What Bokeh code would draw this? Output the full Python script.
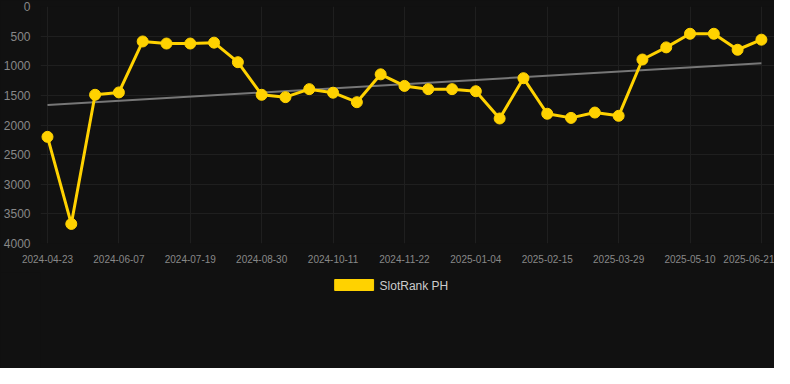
import numpy as np
from bokeh.plotting import figure
from bokeh.layouts import column
from bokeh.models import Range1d, FixedTicker, ColumnDataSource
from bokeh.core.properties import value
from bokeh.embed import file_html
from bokeh.resources import INLINE

# ---- data ----
ranks = [2200, 3670, 1490, 1450, 590, 625, 625, 610, 940, 1490, 1530, 1395, 1455,
         1615, 1145, 1340, 1395, 1395, 1430, 1890, 1210, 1810, 1880, 1790, 1845,
         895, 690, 460, 460, 730, 560]
tick_labels = ["2024-04-23", "2024-06-07", "2024-07-19", "2024-08-30", "2024-10-11",
               "2024-11-22", "2025-01-04", "2025-02-15", "2025-03-29", "2025-05-10",
               "2025-06-21"]
series_name = "SlotRank PH"
y_ticks = [0, 500, 1000, 1500, 2000, 2500, 3000, 3500, 4000]

idx = list(range(len(ranks)))
tick_pos = idx[::3]

# linear trend computed from the series
coef = np.polyfit(idx, ranks, 1)
trend_x = [idx[0], idx[-1]]
trend_y = [float(np.polyval(coef, t)) for t in trend_x]

BG = "#111111"
GOLD = "#FFD200"
W = 774
LEFT = 38

p = figure(width=W, height=272, output_backend="svg", toolbar_location=None,
           x_range=Range1d(-0.294, 30.55), y_range=Range1d(4000, 0),
           background_fill_color=BG, border_fill_color=BG, outline_line_color=None,
           min_border_top=6, min_border_left=LEFT, min_border_right=0, min_border_bottom=29)

p.line(trend_x, trend_y, line_color="#777777", line_width=2)
src = ColumnDataSource(dict(x=idx, y=ranks))
p.line("x", "y", source=src, line_color=GOLD, line_width=3)
p.scatter("x", "y", source=src, size=11, fill_color=GOLD, line_color=GOLD)

# axes
p.xaxis.ticker = FixedTicker(ticks=tick_pos)
p.xaxis.major_label_overrides = {t: lab for t, lab in zip(tick_pos, tick_labels)}
p.yaxis.ticker = FixedTicker(ticks=y_ticks)
for ax in (p.xaxis, p.yaxis):
    ax.axis_line_color = None
    ax.major_tick_line_color = None
    ax.minor_tick_line_color = None
    ax.major_label_text_color = "#888888"
    ax.major_label_text_font = "Liberation Sans"
p.xaxis.major_label_text_font_size = "10px"
p.yaxis.major_label_text_font_size = "12px"
p.xaxis.major_label_standoff = 5
p.yaxis.major_label_standoff = 4

p.xgrid.grid_line_color = "#1f1f1f"
p.ygrid.grid_line_color = "#1f1f1f"
p.xgrid.ticker = FixedTicker(ticks=tick_pos)
p.ygrid.ticker = FixedTicker(ticks=y_ticks)

# ---- legend strip (pixel coordinates, y downwards) ----
LH = 96
lg = figure(width=W, height=LH, output_backend="svg", toolbar_location=None,
            x_range=Range1d(LEFT, W), y_range=Range1d(LH, 0),
            background_fill_alpha=0, border_fill_color=BG, outline_line_color=None,
            min_border_left=LEFT, min_border_right=0, min_border_top=0, min_border_bottom=0)
lg.xaxis.visible = False
lg.yaxis.visible = False
lg.xgrid.visible = False
lg.ygrid.visible = False
lg.quad(left=[333], right=[372], top=[7], bottom=[18], fill_color=GOLD, line_color=GOLD)
lg.text(x=[378], y=[13], text=[series_name], text_font=value("Liberation Sans"),
        text_font_size="12px", text_color="#cccccc", text_baseline="middle",
        text_align="left")

layout = column(p, lg, spacing=0, styles={"background-color": BG})
open("out.html", "w").write(file_html(layout, INLINE))
